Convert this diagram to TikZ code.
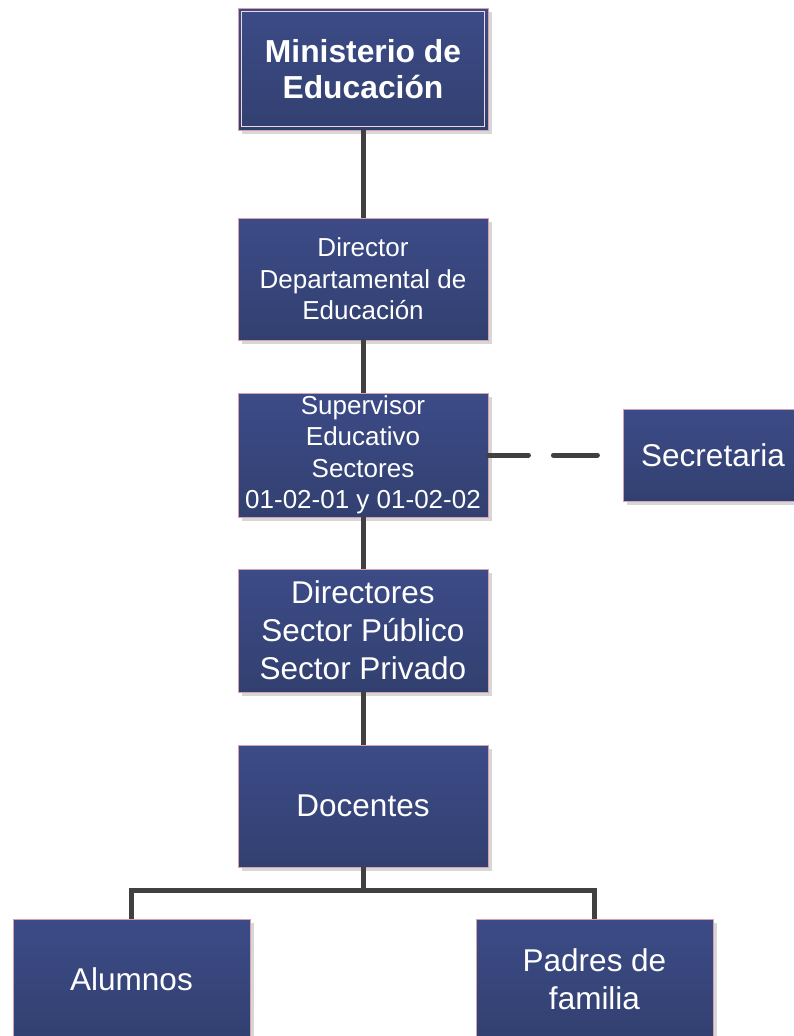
\documentclass[tikz,border=0pt]{standalone}
\usepackage{fontspec}
\setmainfont{Liberation Sans}
\usetikzlibrary{shadows}
\definecolor{boxtop}{RGB}{60,75,135}
\definecolor{boxbot}{RGB}{50,64,112}
\definecolor{boxedge}{RGB}{215,160,175}
\definecolor{conn}{RGB}{64,64,64}
\definecolor{shadegrey}{RGB}{215,215,215}
\tikzset{
  orgbox/.style={rectangle, draw=boxedge, line width=0.8pt, top color=boxtop, bottom color=boxbot,
    text=white, align=center, inner sep=0pt,
    drop shadow={shadow xshift=4pt, shadow yshift=-4pt, fill=shadegrey, draw=none, opacity=1}},
  bigtext/.style={font=\fontsize{31.5}{38}\selectfont},
  midtext/.style={font=\fontsize{26}{31.5}\selectfont},
  boldtext/.style={font=\fontsize{31.8}{36}\selectfont\bfseries},
  link/.style={draw=conn, line width=5pt},
  dashlink/.style={draw=conn, line width=5pt, line cap=round, dash pattern=on 40pt off 25pt on 44pt off 100pt},
  innerline/.style={draw=boxedge!40!white, line width=0.8pt}
}
\begin{document}
\begin{tikzpicture}[x=1pt,y=-1pt]
\useasboundingbox (0,0) rectangle (794,1036);
\begin{scope}
\clip (0,0) rectangle (794,1036);
\fill[white] (0,0) rectangle (794,1036);
\node[orgbox, boldtext, minimum width=250pt, minimum height=122pt] (min) at (363,69) {Ministerio de\\Educación};
\draw[innerline] ([shift={(4,4)}]min.north west) rectangle ([shift={(-4,-4)}]min.south east);
\node[orgbox, midtext, minimum width=250pt, minimum height=122pt] (dir) at (363,279) {Director\\Departamental de\\Educación};
\node[orgbox, midtext, minimum width=250pt, minimum height=124pt] (sup) at (363,455) {Supervisor\\Educativo\\Sectores\\01-02-01 y 01-02-02};
\node[orgbox, bigtext, minimum width=180pt, minimum height=92pt] (sec) at (713,455) {Secretaria};
\node[orgbox, bigtext, minimum width=250pt, minimum height=123pt] (dirs) at (363,630.5) {Directores\\Sector Público\\Sector Privado};
\node[orgbox, bigtext, minimum width=250pt, minimum height=122pt] (doc) at (363,806) {Docentes};
\node[orgbox, bigtext, minimum width=237pt, minimum height=120pt] (alu) at (131.5,979) {Alumnos};
\node[orgbox, bigtext, minimum width=237pt, minimum height=120pt] (pad) at (594.5,979) {Padres de\\familia};
\draw[link] (min.south) -- (dir.north);
\draw[link] (dir.south) -- (sup.north);
\draw[link] (sup.south) -- (dirs.north);
\draw[link] (dirs.south) -- (doc.north);
\coordinate (junc) at ([yshift=-23pt]doc.south);
\draw[link] (doc.south) -- (junc);
\draw[link] (junc) -| (alu.north);
\draw[link] (junc) -| (pad.north);
\draw[dashlink] (sup.east) -- (sec.west);
\end{scope}
\end{tikzpicture}
\end{document}
